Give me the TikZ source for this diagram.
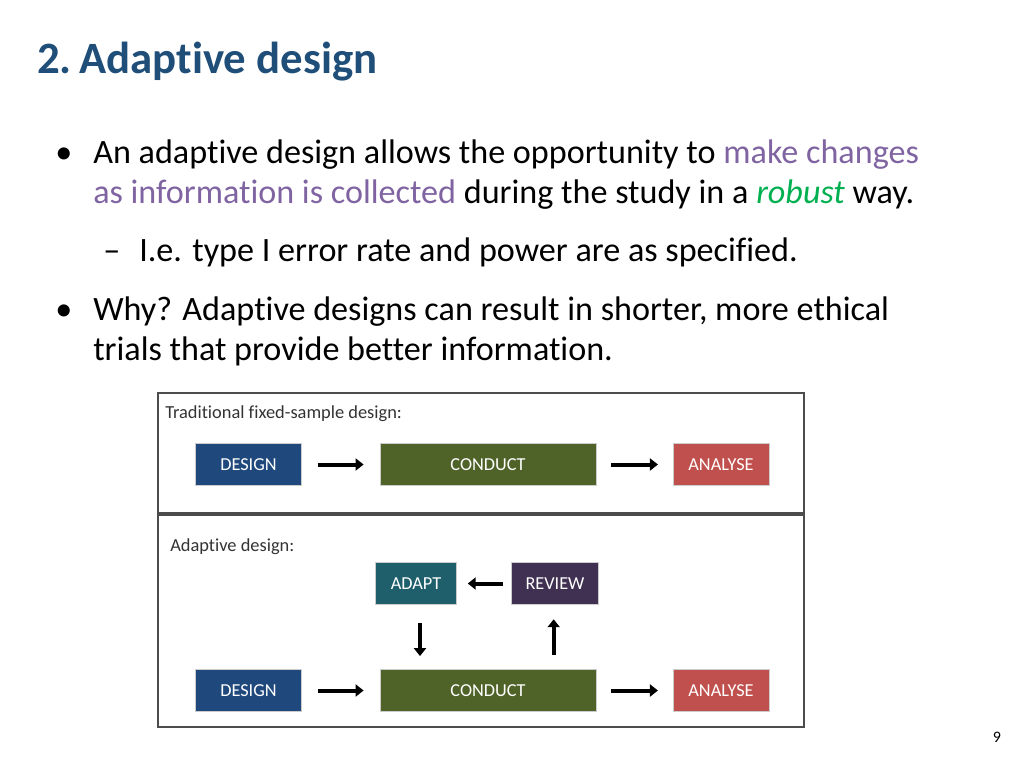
\documentclass[tikz,border=0pt]{standalone}
\usepackage{fontspec}
\setmainfont[RawFeature=-liga]{Carlito}
\usetikzlibrary{arrows.meta,positioning}
\definecolor{titleblue}{RGB}{31,78,121}
\definecolor{hlpurple}{RGB}{128,100,162}
\definecolor{hlgreen}{RGB}{0,176,80}
\definecolor{designblue}{RGB}{31,73,125}
\definecolor{conductgreen}{RGB}{79,98,40}
\definecolor{analysered}{RGB}{192,80,77}
\definecolor{adaptteal}{RGB}{31,95,107}
\definecolor{reviewpurple}{RGB}{64,49,82}

\begin{document}
\begin{tikzpicture}[x=0.75pt,y=-0.75pt]
        \tikzset{
          stage/.style={draw=white!80!black,line width=0.6pt,text=white,minimum height=31pt,inner sep=0pt,font=\fontsize{13.7}{16}\selectfont},
          flow/.style={line width=3pt,-{Triangle[length=6pt,width=9pt]}},
          body/.style={anchor=base west,inner sep=0pt,font=\fontsize{25.6}{30}\selectfont},
          panel/.style={draw=black!70,line width=1.2pt},
          caption/.style={anchor=base west,inner sep=0pt,font=\fontsize{13.8}{16}\selectfont,text=black!80}
        }
        \useasboundingbox (0,0) rectangle (1024,768);

        % heading and bullets
        \node[anchor=base west,inner sep=0pt,text=titleblue,font=\fontsize{33.6}{38}\selectfont\bfseries] (title) at (37,73) {2.\,Adaptive design};
        \node[body] (b1) at (55,163) {\textbullet};
        \node[body] (t1) at (93,163) {An adaptive design allows the opportunity to \textcolor{hlpurple}{make changes}};
        \node[body] (t2) at (93,203) {\textcolor{hlpurple}{as information is collected} during the study in a \textcolor{hlgreen}{\itshape robust} way.};
        \node[body] (d1) at (103,261) {--};
        \node[body] (t3) at (139,261) {I.e. type I error rate and power are as specified.};
        \node[body] (b2) at (55,320) {\textbullet};
        \node[body] (t4) at (93,320) {Why? Adaptive designs can result in shorter, more ethical};
        \node[body] (t5) at (93,360) {trials that provide better information.};

        % panels
        \draw[panel] (158,393) rectangle (804,513);
        \draw[panel] (158,515) rectangle (804,727);
        \node[caption] (fixlab) at (165,418) {Traditional fixed-sample design:};
        \node[caption] (adalab) at (170,551) {Adaptive design:};

        % fixed design
        \node[stage,fill=designblue,minimum width=79pt] (des1) at (248.5,464.5) {DESIGN};
        \node[stage,fill=conductgreen,minimum width=162pt] (con1) at (488,464.5) {CONDUCT};
        \node[stage,fill=analysered,minimum width=72pt] (ana1) at (721,464.5) {ANALYSE};
        \draw[flow] ([xshift=12pt]des1.east) -- ([xshift=-12pt]con1.west);
        \draw[flow] ([xshift=11pt]con1.east) -- ([xshift=-11pt]ana1.west);

        % adaptive design
        \node[stage,fill=adaptteal,minimum width=61pt] (adapt) at (416,583.5) {ADAPT};
        \node[stage,fill=reviewpurple,minimum width=65pt] (review) at (555,583.5) {REVIEW};
        \node[stage,fill=designblue,minimum width=79pt] (des2) at (248.5,690.5) {DESIGN};
        \node[stage,fill=conductgreen,minimum width=162pt] (con2) at (488,690.5) {CONDUCT};
        \node[stage,fill=analysered,minimum width=72pt] (ana2) at (721,690.5) {ANALYSE};
        \draw[flow] ([xshift=12pt]des2.east) -- ([xshift=-12pt]con2.west);
        \draw[flow] ([xshift=11pt]con2.east) -- ([xshift=-11pt]ana2.west);
        \draw[flow] ([xshift=-6pt]review.west) -- ([xshift=8pt]adapt.east);
        \draw[flow] ([xshift=3pt,yshift=-13.5pt]adapt.south) -- ([xshift=3pt,yshift=10pt]adapt.south |- con2.north);
        \draw[flow] ([xshift=-1pt,yshift=11pt]review.south |- con2.north) -- ([xshift=-1pt,yshift=-11pt]review.south);

        \node[anchor=base,inner sep=0pt,font=\fontsize{12}{14}\selectfont] (page) at (997,742) {9};
\end{tikzpicture}
\end{document}
